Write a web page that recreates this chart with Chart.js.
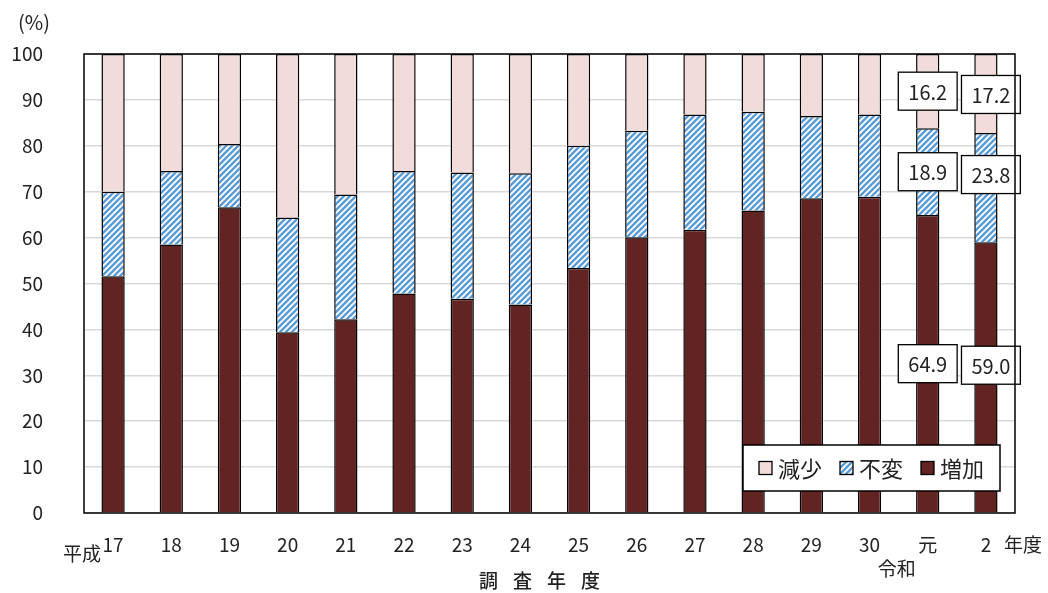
<!DOCTYPE html>
<html>
<head>
<meta charset="utf-8">
<script src="https://cdn.jsdelivr.net/npm/chart.js@4/dist/chart.umd.min.js"></script>
<style>
  html, body { margin: 0; padding: 0; background: #fff; }
  canvas { display: block; }
</style>
</head>
<body>
<canvas id="chart" width="1048" height="593"></canvas>
<script>
// survey years (平成17 … 令和2)
const years = ['17', '18', '19', '20', '21', '22', '23', '24', '25', '26', '27', '28', '29', '30', '元', '2'];
// share of answers, %
const increase  = [51.6, 58.5, 66.6, 39.4, 42.2, 47.8, 46.7, 45.4, 53.4, 60.1, 61.7, 65.9, 68.6, 68.9, 64.9, 59.0];
const unchanged = [18.4, 16.0, 13.8, 25.0, 27.2, 26.7, 27.5, 28.6, 26.6, 23.2, 25.1, 21.5, 17.9, 17.9, 18.9, 23.8];
const decrease  = [30.0, 25.5, 19.6, 35.6, 30.6, 25.5, 25.8, 26.0, 20.0, 16.7, 13.2, 12.6, 13.5, 13.2, 16.2, 17.2];
const yTicks = [0, 10, 20, 30, 40, 50, 60, 70, 80, 90, 100];
// bars that carry value boxes
const labelled = [14, 15];

const FONT = '"Noto Sans CJK JP", "Noto Sans", sans-serif';
const TEXT = '#222';

function stripes() {
  const c = document.createElement('canvas');
  c.width = c.height = 6;
  const g = c.getContext('2d');
  g.fillStyle = '#fff';
  g.fillRect(0, 0, 6, 6);
  g.strokeStyle = '#5b9bd5';
  g.lineWidth = 2.4;
  g.beginPath();
  g.moveTo(-1, 7); g.lineTo(7, -1);
  g.moveTo(-1, 1); g.lineTo(1, -1);
  g.moveTo(5, 7); g.lineTo(7, 5);
  g.stroke();
  return g.createPattern(c, 'repeat');
}

const barStyle = {
  borderColor: '#000',
  borderWidth: 1.5,
  barPercentage: 0.4,
  categoryPercentage: 1.0
};

// label boxes: nudges in px for [dataset][bar]
const nudge = {
  '0-15': [5, -12],
  '1-15': [5, -13],
  '2-15': [5, 1]
};

const extras = {
  id: 'extras',
  afterDraw(chart) {
    const { ctx, chartArea: a, scales: { x } } = chart;
    ctx.save();

    // value boxes
    ctx.font = '20px ' + FONT;
    ctx.textAlign = 'center';
    ctx.textBaseline = 'middle';
    chart.data.datasets.forEach((ds, di) => {
      const meta = chart.getDatasetMeta(di);
      labelled.forEach(i => {
        const bar = meta.data[i];
        const txt = ds.data[i].toFixed(1);
        const off = nudge[di + '-' + i] || [0, 0];
        const cx = bar.x + off[0];
        const cy = (bar.y + bar.base) / 2 + off[1];
        const w = ctx.measureText(txt).width + 20;
        const h = 38;
        ctx.fillStyle = '#fff';
        ctx.fillRect(cx - w / 2, cy - h / 2, w, h);
        ctx.strokeStyle = '#000';
        ctx.lineWidth = 1.3;
        ctx.strokeRect(cx - w / 2, cy - h / 2, w, h);
        ctx.fillStyle = TEXT;
        ctx.fillText(txt, cx, cy + 1);
      });
    });

    // frame round the plot
    ctx.strokeStyle = '#000';
    ctx.lineWidth = 1.5;
    ctx.strokeRect(a.left, a.top, a.right - a.left, a.bottom - a.top);

    // legend, top series first
    const items = chart.data.datasets.slice().reverse();
    ctx.font = '22px ' + FONT;
    ctx.textAlign = 'left';
    const mk = 13, gapT = 6, gapI = 18, padX = 16;
    let width = padX * 2 - gapI;
    items.forEach(ds => { width += mk + gapT + ctx.measureText(ds.label).width + gapI; });
    const lh = 46;
    const lx = a.right - 15 - width;
    const ly = a.bottom - 22 - lh;
    ctx.fillStyle = '#fff';
    ctx.fillRect(lx, ly, width, lh);
    ctx.lineWidth = 1.5;
    ctx.strokeRect(lx, ly, width, lh);
    let px = lx + padX;
    const my = ly + lh / 2;
    items.forEach(ds => {
      ctx.fillStyle = ds.backgroundColor;
      ctx.fillRect(px, my - mk / 2, mk, mk);
      ctx.strokeStyle = '#000';
      ctx.lineWidth = 1.3;
      ctx.strokeRect(px, my - mk / 2, mk, mk);
      px += mk + gapT;
      ctx.fillStyle = TEXT;
      ctx.fillText(ds.label, px, my + 1);
      px += ctx.measureText(ds.label).width + gapI;
    });

    // era and unit captions
    ctx.font = '19px ' + FONT;
    ctx.fillStyle = TEXT;
    ctx.textAlign = 'right';
    ctx.fillText('平成', x.getPixelForValue(0) - 12, a.bottom + 41);
    ctx.fillText('令和', x.getPixelForValue(14) - 12, a.bottom + 56);
    ctx.textAlign = 'left';
    ctx.fillText('年度', x.getPixelForValue(15) + 18, a.bottom + 32);
    ctx.textAlign = 'center';
    ctx.font = '20px ' + FONT;
    ctx.fillText('(%)', 34, a.top - 32);

    // axis title, spaced out
    ctx.font = '500 19px ' + FONT;
    const title = ['調', '査', '年', '度'];
    const step = 34;
    const tx = (x.getPixelForValue(7) + x.getPixelForValue(8)) / 2 - 10;
    title.forEach((ch, k) => {
      ctx.fillText(ch, tx + (k - 1.5) * step, a.bottom + 68);
    });
    ctx.restore();
  }
};

new Chart(document.getElementById('chart'), {
  type: 'bar',
  data: {
    labels: years,
    datasets: [
      { label: '増加', data: increase, backgroundColor: '#622423', ...barStyle },
      { label: '不変', data: unchanged, backgroundColor: stripes(), ...barStyle },
      { label: '減少', data: decrease, backgroundColor: '#f2dcdb', ...barStyle }
    ]
  },
  options: {
    responsive: false,
    devicePixelRatio: 1,
    animation: false,
    layout: { padding: { top: 54, right: 33, left: 10, bottom: 0 } },
    plugins: {
      legend: { display: false },
      tooltip: { enabled: false }
    },
    scales: {
      x: {
        stacked: true,
        grid: { display: false, drawTicks: false },
        border: { display: false },
        ticks: { color: TEXT, font: { family: FONT, size: 19 }, padding: 20, maxRotation: 0 },
        afterFit(scale) { scale.height = 80; }
      },
      y: {
        stacked: true,
        min: 0,
        max: 100,
        afterBuildTicks(scale) { scale.ticks = yTicks.map(v => ({ value: v })); },
        grid: { color: '#d9d9d9', lineWidth: 1.5, drawTicks: false },
        border: { display: false },
        ticks: { color: TEXT, font: { family: FONT, size: 19 }, padding: 41 },
        afterFit(scale) { scale.width = 74; }
      }
    }
  },
  plugins: [extras]
});
</script>
</body>
</html>
